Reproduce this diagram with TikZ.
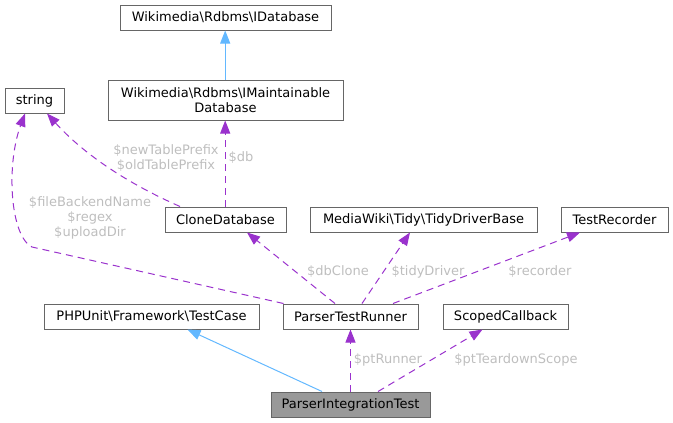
\documentclass[tikz,border=0pt]{standalone}
\usepackage{fontspec}
\setmainfont{DejaVu Sans}
\usetikzlibrary{arrows.meta}
\definecolor{edgepurple}{HTML}{9A32CD}
\definecolor{edgeblue}{HTML}{63B8FF}
\definecolor{boxborder}{HTML}{666666}
\definecolor{labelgray}{HTML}{BEBEBE}
\definecolor{focusfill}{HTML}{999999}
\tikzset{
  classbox/.style={draw=boxborder, line width=1pt, fill=white, minimum height=25pt, inner sep=0pt, align=center, font=\fontsize{13}{15}\selectfont},
  focusbox/.style={classbox, fill=focusfill},
  usesedge/.style={draw=edgepurple, line width=1pt, dash pattern=on 7pt off 5pt, -{Triangle[length=13pt,width=10pt,fill=edgepurple]}},
  inheritedge/.style={draw=edgeblue, line width=1pt, -{Triangle[length=13pt,width=10pt,fill=edgeblue]}},
  edgelabel/.style={text=labelgray, inner sep=0pt, align=center, font=\fontsize{13}{15}\selectfont}
}
\begin{document}
\begin{tikzpicture}[x=1pt,y=-1pt]
\useasboundingbox (0,0) rectangle (673,423);
\node[classbox, minimum width=211pt] (idb) at (225.5,17.5) {Wikimedia\textbackslash Rdbms\textbackslash IDatabase};
\node[classbox, minimum width=235pt, minimum height=40pt] (imdb) at (225.5,100) {Wikimedia\textbackslash Rdbms\textbackslash IMaintainable\\Database};
\node[classbox, minimum width=59pt] (str) at (34.5,100.5) {string};
\node[classbox, minimum width=121pt] (clone) at (225.5,219.5) {CloneDatabase};
\node[classbox, minimum width=227pt] (tidy) at (423.5,219.5) {MediaWiki\textbackslash Tidy\textbackslash TidyDriverBase};
\node[classbox, minimum width=107pt] (rec) at (614.5,219.5) {TestRecorder};
\node[classbox, minimum width=135pt] (runner) at (350.5,316.5) {ParserTestRunner};
\node[classbox, minimum width=125pt] (scoped) at (505.5,316.5) {ScopedCallback};
\node[classbox, minimum width=215pt] (tcase) at (151.5,316.5) {PHPUnit\textbackslash Framework\textbackslash TestCase};
\node[focusbox, minimum width=159pt] (pit) at (350.5,404.5) {ParserIntegrationTest};

\draw[inheritedge] ([xshift=-0.3pt]imdb.north) -- ([xshift=-0.3pt]idb.south);
\draw[usesedge] ([xshift=-0.3pt]clone.north) -- ([xshift=-0.3pt]imdb.south);
\draw[usesedge] ([xshift=-45.5pt]clone.north) .. controls (120,180) and (80,150) .. ([xshift=12.5pt]str.south);
\draw[usesedge] ([xshift=-67pt]runner.north) -- (32,247) .. controls (10,236) and (6,165) .. ([xshift=-9.5pt]str.south);
\draw[usesedge] ([xshift=-15.5pt]runner.north) -- ([xshift=21.5pt]clone.south);
\draw[usesedge] ([xshift=11.5pt]runner.north) -- ([xshift=-13.5pt]tidy.south);
\draw[usesedge] ([xshift=42.5pt]runner.north) -- ([xshift=-34.5pt]rec.south);
\draw[inheritedge] ([xshift=-28.5pt]pit.north) -- ([xshift=36pt]tcase.south);
\draw[usesedge] (pit.north) -- (runner.south);
\draw[usesedge] ([xshift=27.5pt]pit.north) -- ([xshift=-23pt]scoped.south);

\node[edgelabel] (ldb) at (241,158) {\$db};
\node[edgelabel] (lprefix) at (166,158) {\$newTablePrefix\\\$oldTablePrefix};
\node[edgelabel] (lfile) at (90,218) {\$fileBackendName\\\$regex\\\$uploadDir};
\node[edgelabel] (ldbclone) at (338,272) {\$dbClone};
\node[edgelabel] (ltidy) at (428,272) {\$tidyDriver};
\node[edgelabel] (lrec) at (540,272) {\$recorder};
\node[edgelabel] (lptr) at (388,360) {\$ptRunner};
\node[edgelabel] (lpts) at (516,360) {\$ptTeardownScope};
\end{tikzpicture}
\end{document}
